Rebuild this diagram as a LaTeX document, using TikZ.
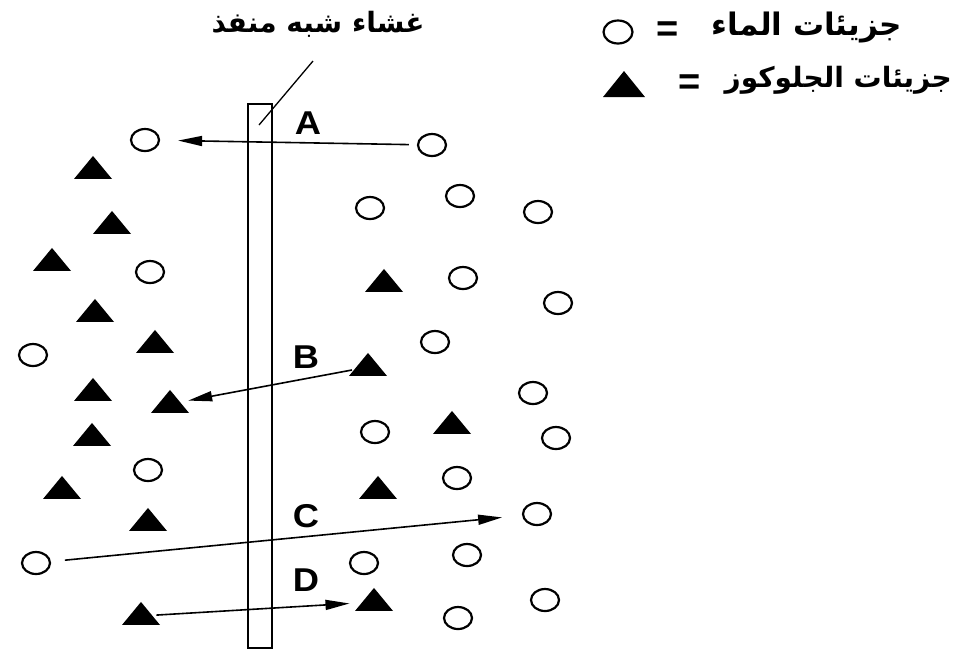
\documentclass[tikz,border=0pt]{standalone}
\usepackage{fontspec}
\setmainfont{Liberation Sans}
\newfontfamily\arabicfont[Script=Arabic]{DejaVu Sans}
\TeXXeTstate=1
\usetikzlibrary{shapes.geometric,arrows.meta}
\begin{document}
\begin{tikzpicture}[x=1pt,y=-1pt,
  mol/.style={ellipse,draw,line width=2.2pt,minimum width=28pt,minimum height=22pt,inner sep=0pt},
  glu/.style={isosceles triangle,isosceles triangle stretches,shape border rotate=90,fill=black,inner sep=0pt,minimum width=38pt,minimum height=23pt},
  arr/.style={line width=1.6pt,-{Triangle[length=24pt,width=10pt]}},
  lbl/.style={font=\fontsize{33}{33}\selectfont\bfseries,xscale=1.1},
  eq/.style={font=\bfseries\fontsize{38}{38}\selectfont,inner sep=0pt},
  ar/.style={font=\arabicfont\bfseries\fontsize{28}{30}\selectfont,inner sep=0pt},
  arl/.style={font=\arabicfont\bfseries\fontsize{31}{32}\selectfont,inner sep=0pt}]
\useasboundingbox (0,0) rectangle (957,649);
% membrane
\node[draw,line width=2pt,minimum width=24pt,minimum height=544pt,inner sep=0pt] (mem) at (260,376) {};
\node[ar] (mlabel) at (318,24) {\beginR غشاء شبه منفذ\endR};
\coordinate (lead) at (259,125);
\draw[line width=1.3pt] (313,61) -- (lead);
% legend
\node[mol,minimum width=29pt,minimum height=23pt] (lc) at (618,32) {};
\node[eq] (le1) at (668,32) {=};
\node[arl,anchor=east] (lt1) at (902,28) {\beginR جزيئات الماء\endR};
\node[glu,minimum width=42pt,minimum height=26pt] (lg) at (624,87) {};
\node[eq] (le2) at (690,85) {=};
\node[arl,anchor=east,font=\arabicfont\bfseries\fontsize{28}{30}\selectfont] (lt2) at (952,80) {\beginR جزيئات الجلوكوز\endR};
% water molecules
\node[mol] (w1) at (145,140) {};
\node[mol] (w2) at (432,145) {};
\node[mol] (w3) at (370,208) {};
\node[mol] (w4) at (460,196) {};
\node[mol] (w5) at (538,212) {};
\node[mol] (w6) at (150,272) {};
\node[mol] (w7) at (463,278) {};
\node[mol] (w8) at (558,303) {};
\node[mol] (w9) at (33,355) {};
\node[mol] (w10) at (435,342) {};
\node[mol] (w11) at (533,393) {};
\node[mol] (w12) at (375,432) {};
\node[mol] (w13) at (556,438) {};
\node[mol] (w14) at (148,470) {};
\node[mol] (w15) at (457,478) {};
\node[mol] (w16) at (537,514) {};
\node[mol] (w17) at (36,563) {};
\node[mol] (w18) at (467,555) {};
\node[mol] (w19) at (364,563) {};
\node[mol] (w20) at (458,618) {};
\node[mol] (w21) at (545,600) {};
% glucose molecules
\node[glu] (g1) at (93,170) {};
\node[glu] (g2) at (112,225) {};
\node[glu] (g3) at (52,262) {};
\node[glu] (g4) at (95,313) {};
\node[glu] (g5) at (155,344) {};
\node[glu] (g6) at (384,283) {};
\node[glu] (g7) at (368,367) {};
\node[glu] (g8) at (93,392) {};
\node[glu] (g9) at (170,404) {};
\node[glu] (g10) at (452,425) {};
\node[glu] (g11) at (92,437) {};
\node[glu] (g12) at (62,490) {};
\node[glu] (g13) at (378,490) {};
\node[glu] (g14) at (148,522) {};
\node[glu] (g15) at (141,616) {};
\node[glu] (g16) at (374,602) {};
% letters
\node[lbl] (A) at (308,123) {A};
\node[lbl] (B) at (306,357) {B};
\node[lbl] (C) at (306,516) {C};
\node[lbl] (D) at (306,580) {D};
% arrows
\draw[arr,shorten <=8pt,shorten >=18pt] (w2) -- (w1);
\draw[arr,shorten <=2pt,shorten >=8pt] (g7) -- (g9);
\draw[arr,shorten <=14pt,shorten >=20pt] (w17) -- (w16);
\draw[arr,shorten <=4pt,shorten >=12pt] (g15) -- (g16);
\end{tikzpicture}
\end{document}
